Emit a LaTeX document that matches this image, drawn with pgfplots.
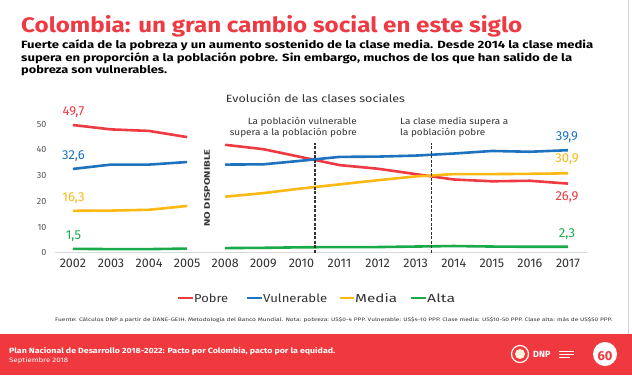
\documentclass[border=0pt]{standalone}
\usepackage{pgfplots}
\pgfplotsset{compat=1.18}
\usepackage{fontspec}
\setmainfont{Fira Sans}
\usepackage{graphicx}
\definecolor{cred}{HTML}{EE3A43}
\definecolor{cblue}{HTML}{1E73BE}
\definecolor{cyel}{HTML}{FDB913}
\definecolor{cgreen}{HTML}{1BAA4A}
\definecolor{cfoot}{HTML}{F0393F}
\definecolor{ctxt}{HTML}{333333}
\definecolor{cgray}{HTML}{555555}
\newcommand\fitw[2]{\resizebox{#1}{\height}{#2}}
\pgfplotstableread{
x    pobre vuln media alta
0    49.7  32.6 16.3  1.5
1    48.0  34.3 16.4  1.4
2    47.4  34.3 16.7  1.4
3    45.0  35.3 18.2  1.6
3.5  nan   nan  nan   nan
4    42.0  34.3 21.8  1.8
5    40.3  34.4 23.2  1.9
6    37.2  35.8 25.0  2.1
7    34.1  37.3 26.6  2.2
8    32.7  37.4 28.2  2.2
9    30.6  37.8 29.7  2.4
10   28.5  38.6 30.6  2.6
11   27.8  39.6 30.6  2.4
12   28.0  39.3 30.7  2.3
13   26.9  39.9 30.9  2.3
}\datatable
\begin{document}
\begin{tikzpicture}
\useasboundingbox (0,0) rectangle (632pt,-375pt);
\fill[white] (0,0) rectangle (632pt,-375pt);
\draw[gray!35, line width=0.8pt] (628.5pt,0) -- (628.5pt,-334pt);
% title and subtitle
\node[anchor=base west, inner sep=0, text=cred] at (21pt,-32pt) {\fitw{501pt}{\fontsize{21}{24}\selectfont\bfseries Colombia: un gran cambio social en este siglo}};
\node[anchor=base west, inner sep=0, text=black] at (21pt,-48pt) {\fitw{572pt}{\fontsize{10.5}{12}\selectfont\bfseries Fuerte caída de la pobreza y un aumento sostenido de la clase media. Desde 2014 la clase media}};
\node[anchor=base west, inner sep=0, text=black] at (21pt,-61pt) {\fitw{551pt}{\fontsize{10.5}{12}\selectfont\bfseries supera en proporción a la población pobre. Sin embargo, muchos de los que han salido de la}};
\node[anchor=base west, inner sep=0, text=black] at (21pt,-73pt) {\fitw{146pt}{\fontsize{10.5}{12}\selectfont\bfseries pobreza son vulnerables.}};
% chart title
\node[inner sep=0, text=ctxt] at (315.5pt,-98pt) {\fitw{179pt}{\fontsize{10.5}{12}\selectfont Evolución de las clases sociales}};
\begin{axis}[
  at={(55pt,-252.7pt)}, anchor=south west,
  scale only axis, width=532pt, height=141.3pt,
  xmin=-0.47, xmax=13.5, ymin=0, ymax=55,
  axis lines*=left,
  x axis line style={draw=gray!30, line width=0.8pt},
  y axis line style={draw=none},
  major tick length=0pt,
  xtick={0,...,13},
  xticklabels={2002,2003,2004,2005,2008,2009,2010,2011,2012,2013,2014,2015,2016,2017},
  ytick={0,10,20,30,40,50},
  /pgf/number format/assume math mode=true,
  xticklabel style={font=\fontsize{12.5}{14}\selectfont, text=ctxt, yshift=-3pt},
  yticklabel style={font=\fontsize{9}{10}\selectfont, text=cgray, xshift=-5pt},
  unbounded coords=jump,
  clip=false,
]
\addplot[cred, line width=2.6pt, line join=round] table[x=x, y=pobre] {\datatable};
\addplot[cblue, line width=2.6pt, line join=round] table[x=x, y=vuln] {\datatable};
\addplot[cyel, line width=2.6pt, line join=round] table[x=x, y=media] {\datatable};
\addplot[cgreen, line width=2.6pt, line join=round] table[x=x, y=alta] {\datatable};
\addplot[black!80, dashed, line width=1.3pt, dash pattern=on 3pt off 1.5pt] coordinates {(6.36,0) (6.36,42.8)};
\addplot[black!80, dashed, line width=1.3pt, dash pattern=on 3pt off 1.5pt] coordinates {(9.42,0) (9.42,42.8)};
\end{axis}
% annotations
\node[anchor=base east, inner sep=0, text=ctxt] at (357pt,-124.5pt) {\fitw{109pt}{\fontsize{9}{10}\selectfont La población vulnerable}};
\node[anchor=base east, inner sep=0, text=ctxt] at (357pt,-135.5pt) {\fitw{127pt}{\fontsize{9}{10}\selectfont supera a la población pobre}};
\node[anchor=base west, inner sep=0, text=ctxt] at (400pt,-124.5pt) {\fitw{108pt}{\fontsize{9}{10}\selectfont La clase media supera a}};
\node[anchor=base west, inner sep=0, text=ctxt] at (400pt,-135.5pt) {\fitw{85pt}{\fontsize{9}{10}\selectfont la población pobre}};
\node[rotate=90, inner sep=0, text=ctxt] at (207pt,-188pt) {\fitw{77pt}{\fontsize{8}{9}\selectfont\bfseries NO DISPONIBLE}};
% data labels
\begin{scope}[every node/.style={inner sep=0, font=\fontsize{13}{15}\selectfont}]
\node[text=cred] at (73.5pt,-111.7pt) {49,7};
\node[text=cblue] at (73.5pt,-156pt) {32,6};
\node[text=cyel] at (73.5pt,-198pt) {16,3};
\node[text=cgreen] at (73.5pt,-236.7pt) {1,5};
\node[text=cblue] at (567pt,-137pt) {39,9};
\node[text=cyel] at (567pt,-159.5pt) {30,9};
\node[text=cred] at (567pt,-197.5pt) {26,9};
\node[text=cgreen] at (567pt,-234pt) {2,3};
\end{scope}
% legend
\begin{scope}[every node/.style={inner sep=0, anchor=west, text=ctxt}]
\draw[cred, line width=2.4pt] (178pt,-298pt) -- (193pt,-298pt);
\node at (194pt,-298pt) {\fitw{34pt}{\fontsize{11.5}{13}\selectfont Pobre}};
\draw[cblue, line width=2.4pt] (247pt,-298pt) -- (262pt,-298pt);
\node at (263pt,-298pt) {\fitw{64pt}{\fontsize{11.5}{13}\selectfont Vulnerable}};
\draw[cyel, line width=2.4pt] (340pt,-298pt) -- (354pt,-298pt);
\node at (355pt,-298pt) {\fitw{42pt}{\fontsize{11.5}{13}\selectfont Media}};
\draw[cgreen, line width=2.4pt] (411pt,-298pt) -- (426pt,-298pt);
\node at (427pt,-298pt) {\fitw{28pt}{\fontsize{11.5}{13}\selectfont Alta}};
\end{scope}
% source
\node[anchor=west, inner sep=0, text=ctxt] at (55pt,-320pt) {\fitw{557pt}{\fontsize{5}{6}\selectfont Fuente: Cálculos DNP a partir de DANE-GEIH. Metodología del Banco Mundial. Nota: pobreza: US\$0-4 PPP. Vulnerable: US\$4-10 PPP. Clase media: US\$10-50 PPP. Clase alta: más de US\$50 PPP.}};
% footer
\fill[cfoot] (0,-334pt) rectangle (632pt,-375pt);
\node[anchor=west, inner sep=0, text=white] at (9pt,-351pt) {\fitw{326pt}{\fontsize{7.5}{9}\selectfont\bfseries Plan Nacional de Desarrollo 2018-2022: Pacto por Colombia, pacto por la equidad.}};
\node[anchor=west, inner sep=0, text=white] at (9pt,-361pt) {\fitw{59pt}{\fontsize{6.5}{8}\selectfont Septiembre 2018}};
\draw[white, line width=1.2pt] (520pt,-354pt) circle (8.5pt);
\fill[white!85!cyel] (520pt,-354pt) circle (5pt);
\node[anchor=west, inner sep=0, text=white] at (533pt,-354pt) {\fontsize{9}{10}\selectfont\bfseries DNP};
\draw[white, line width=0.6pt] (559pt,-351pt) -- (574pt,-351pt) (559pt,-354pt) -- (574pt,-354pt) (559pt,-357pt) -- (570pt,-357pt);
\fill[white] (605pt,-354pt) circle (12pt);
\node[text=cfoot, inner sep=0] at (605pt,-356pt) {\fontsize{13}{14}\selectfont\bfseries 60};
\end{tikzpicture}
\end{document}
